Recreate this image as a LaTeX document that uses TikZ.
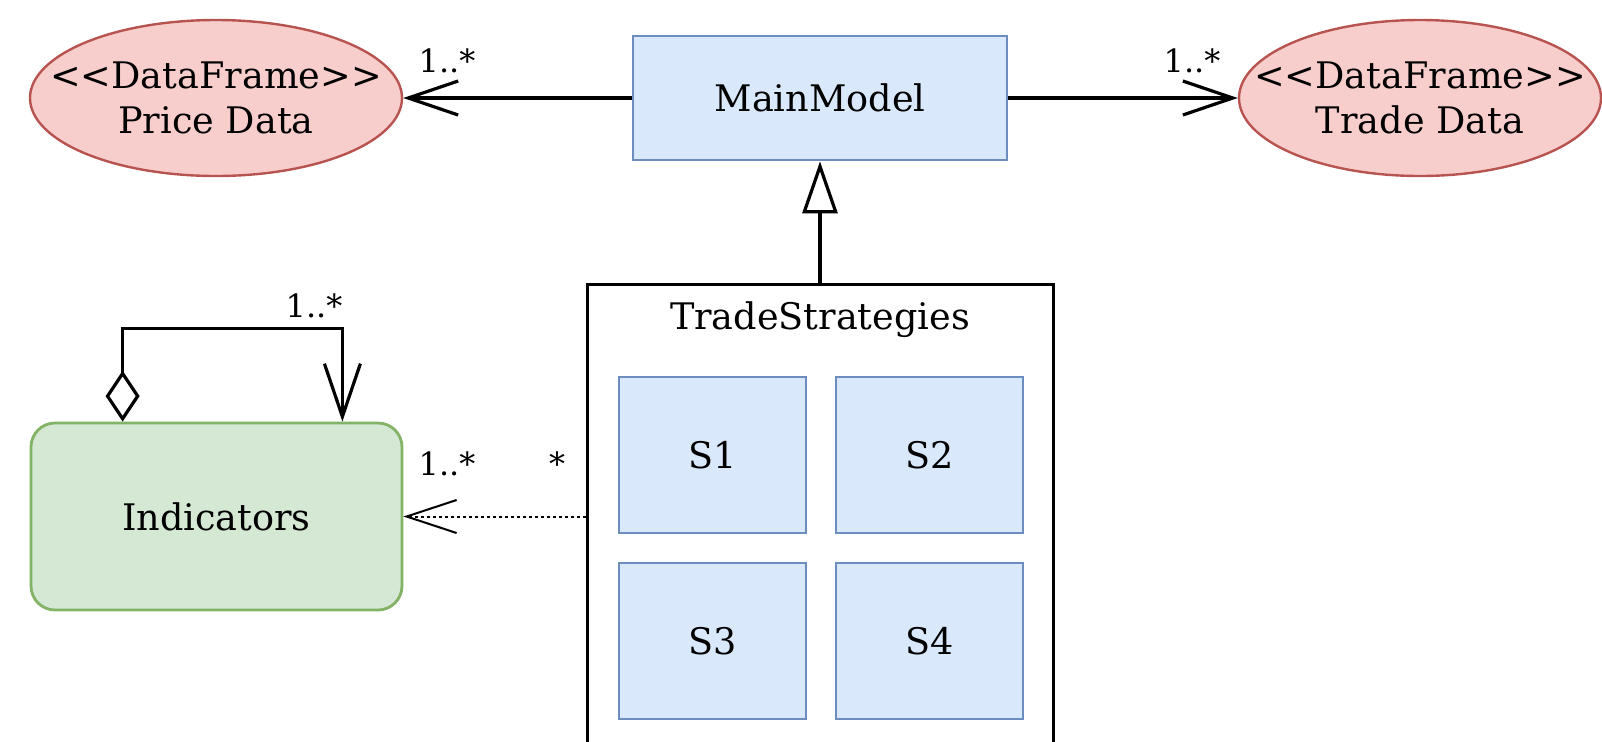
\documentclass[tikz,border=0pt]{standalone}
\usepackage{fontspec}
\setmainfont{DejaVu Serif}
\usetikzlibrary{arrows.meta}
\usetikzlibrary{shapes.geometric}
\usetikzlibrary{positioning}
\definecolor{bluefill}{HTML}{DAE8FC}
\definecolor{blueline}{HTML}{6C8EBF}
\definecolor{redfill}{HTML}{F8CECC}
\definecolor{redline}{HTML}{B85450}
\definecolor{greenfill}{HTML}{D5E8D4}
\definecolor{greenline}{HTML}{82B366}
\newcommand{\stereo}[1]{<\kern0pt<#1>\kern0pt>}

\begin{document}
\begin{tikzpicture}[x=0.5pt,y=-0.5pt]
    \tikzstyle{every node}=[font=\fontsize{18.3}{22.5}\selectfont, inner sep=0pt]
    \tikzstyle{frame}=[ellipse, draw=redline, fill=redfill, line width=1.2pt, inner xsep=-20pt,
                       minimum width=186pt, minimum height=78pt, align=center]
    \tikzstyle{cls}=[draw=blueline, fill=bluefill, line width=1.4pt]
    \tikzstyle{strat}=[cls, minimum width=93.5pt, minimum height=78pt]
    \tikzstyle{mult}=[font=\fontsize{16}{19}\selectfont, anchor=base]
    \tikzstyle{link}=[line width=1.6pt]
    \tikzstyle{assoc}=[link, -{Straight Barb[length=25pt, width=17pt]}]

    \useasboundingbox (0,0) rectangle (1602,741);
    \clip (0,0) rectangle (1602,741);

    % data frames and the main model
    \node[frame] (price) at (216,98) {\stereo{DataFrame}\\Price Data};
    \node[frame, minimum width=181pt] (trade) at (1420,98) {\stereo{DataFrame}\\Trade Data};
    \node[cls, minimum width=187pt, minimum height=62pt] (main) at (820,98) {MainModel};

    % strategies container, runs off the bottom
    \node[draw, line width=1.5pt, minimum width=233pt, minimum height=280pt] (ts) at (820,564) {};
    \node[below=9.5pt of ts.north] (tstitle) {TradeStrategies};
    \node[strat] (s1) at (712.5,455) {S1};
    \node[strat] (s2) at (929.5,455) {S2};
    \node[strat] (s3) at (712.5,641) {S3};
    \node[strat] (s4) at (929.5,641) {S4};

    \node[draw=greenline, fill=greenfill, rounded corners=12pt, line width=1.4pt,
          minimum width=185.5pt, minimum height=93.5pt] (ind) at (216.5,516.5) {Indicators};

    % connectors
    \draw[assoc] (main.west) -- (price.east);
    \draw[assoc] (main.east) -- (trade.west);
    \draw[link, -{Triangle[open, length=26pt, width=17.5pt]}] (ts.north) -- (main.south);
    \draw[link, {Diamond[open, length=25.5pt, width=17pt]}-{Straight Barb[length=26.5pt, width=18pt]}]
        ([xshift=46.5pt]ind.north west) -- ++(0,-93) -| ([xshift=-30.5pt]ind.north east);
    \draw[line width=1pt, dash pattern=on 1.5pt off 1.5pt, -{Straight Barb[length=25pt, width=16.5pt]}]
        (ts.west |- ind.east) -- (ind.east);

    % multiplicities
    \node[mult] (mprice) at (447,72) {1..*};
    \node[mult] (mtrade) at (1192,72) {1..*};
    \node[mult] (mloop) at (314,317) {1..*};
    \node[mult] (mind) at (447,475) {1..*};
    \node[mult] (mts) at (557,475) {*};
\end{tikzpicture}
\end{document}
